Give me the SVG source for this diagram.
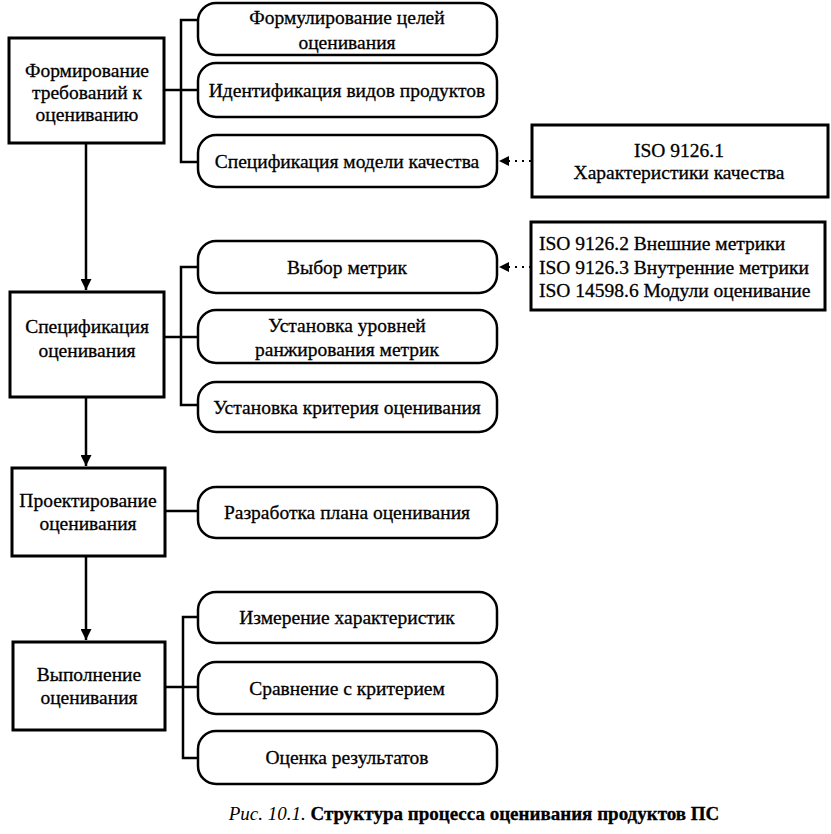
<svg xmlns="http://www.w3.org/2000/svg" width="831" height="834" viewBox="0 0 831 834">
<defs>
<style>
text{font-family:"Liberation Serif","Times New Roman",serif;font-size:19.5px;fill:#000;stroke:#000;stroke-width:0.3}
.c{text-anchor:middle}
.box{fill:#fff;stroke:#000;stroke-width:3}
.rbox{fill:#fff;stroke:#000;stroke-width:2.5}
.ln{fill:none;stroke:#000;stroke-width:2.5}
.dot{fill:none;stroke:#000;stroke-width:2;stroke-dasharray:2 5}
</style>
<marker id="ah" viewBox="0 0 10 10" refX="10" refY="5" markerWidth="10" markerHeight="10" markerUnits="userSpaceOnUse" orient="auto">
<path d="M0,0 L10,5 L0,10 z" fill="#000"/>
</marker>
<marker id="ah2" viewBox="0 0 10 10" refX="10" refY="5" markerWidth="11" markerHeight="11" markerUnits="userSpaceOnUse" orient="auto">
<path d="M0,0 L10,5 L0,10 z" fill="#000"/>
</marker>
</defs>
<rect width="831" height="834" fill="#fff"/>
<g id="connectors">
<path class="ln" d="M86,143 V290" marker-end="url(#ah2)"/>
<path class="ln" d="M86,397 V466" marker-end="url(#ah2)"/>
<path class="ln" d="M86,556 V640" marker-end="url(#ah2)"/>
<path class="ln" d="M164,90 H198 M198,20 H181 V162 H198"/>
<path class="ln" d="M164,337 H198 M198,267 H181 V405 H198"/>
<path class="ln" d="M165,511 H198"/>
<path class="ln" d="M165,687 H198 M198,617 H183 V758 H198"/>
<path class="dot" d="M531,161 H499" marker-end="url(#ah)"/>
<path class="dot" d="M531,267 H499" marker-end="url(#ah)"/>
</g>
<g id="n1"><rect class="box" x="9" y="38" width="155" height="105"/>
<text class="c" x="87" y="77">Формирование</text><text class="c" x="87" y="99">требований к</text><text class="c" x="87" y="121">оцениванию</text></g>
<g id="n2"><rect class="box" x="10" y="292" width="154" height="105"/>
<text class="c" x="87" y="333">Спецификация</text><text class="c" x="87" y="357">оценивания</text></g>
<g id="n3"><rect class="box" x="12" y="468" width="153" height="88"/>
<text class="c" x="88" y="507">Проектирование</text><text class="c" x="88" y="530">оценивания</text></g>
<g id="n4"><rect class="box" x="13" y="642" width="152" height="88"/>
<text class="c" x="89" y="681">Выполнение</text><text class="c" x="89" y="704">оценивания</text></g>
<g id="r1"><rect class="rbox" x="198" y="3" width="299" height="52" rx="18"/>
<text class="c" x="347" y="24">Формулирование целей</text><text class="c" x="347" y="49">оценивания</text></g>
<g id="r2"><rect class="rbox" x="198" y="63" width="299" height="54" rx="18"/>
<text class="c" x="347" y="97">Идентификация видов продуктов</text></g>
<g id="r3"><rect class="rbox" x="198" y="135" width="299" height="52" rx="18"/>
<text class="c" x="347" y="168">Спецификация модели качества</text></g>
<g id="r4"><rect class="rbox" x="198" y="241" width="299" height="52" rx="18"/>
<text class="c" x="347" y="274">Выбор метрик</text></g>
<g id="r5"><rect class="rbox" x="198" y="310" width="299" height="53" rx="18"/>
<text class="c" x="347" y="332">Установка уровней</text><text class="c" x="347" y="356">ранжирования метрик</text></g>
<g id="r6"><rect class="rbox" x="198" y="382" width="299" height="50" rx="18"/>
<text class="c" x="347" y="414">Установка критерия оценивания</text></g>
<g id="r7"><rect class="rbox" x="198" y="487" width="299" height="51" rx="18"/>
<text class="c" x="347" y="519">Разработка плана оценивания</text></g>
<g id="r8"><rect class="rbox" x="198" y="592" width="299" height="51" rx="18"/>
<text class="c" x="347" y="624">Измерение характеристик</text></g>
<g id="r9"><rect class="rbox" x="198" y="662" width="299" height="52" rx="18"/>
<text class="c" x="347" y="695">Сравнение с критерием</text></g>
<g id="r10"><rect class="rbox" x="198" y="731" width="299" height="53" rx="18"/>
<text class="c" x="347" y="764">Оценка результатов</text></g>
<g id="s1"><rect class="box" x="532" y="125" width="296" height="72"/>
<text class="c" x="679" y="157">ISO 9126.1</text><text class="c" x="679" y="179">Характеристики качества</text></g>
<g id="s2"><rect class="box" x="531" y="222" width="294" height="88"/>
<text x="539" y="250">ISO 9126.2 Внешние метрики</text><text x="539" y="274">ISO 9126.3 Внутренние метрики</text><text x="539" y="297">ISO 14598.6 Модули оценивание</text></g>
<text class="c" x="474" y="820" style="font-size:19px"><tspan font-style="italic" stroke-width="0">Рис. 10.1.</tspan> <tspan font-weight="bold">Структура процесса оценивания продуктов ПС</tspan></text>
</svg>
